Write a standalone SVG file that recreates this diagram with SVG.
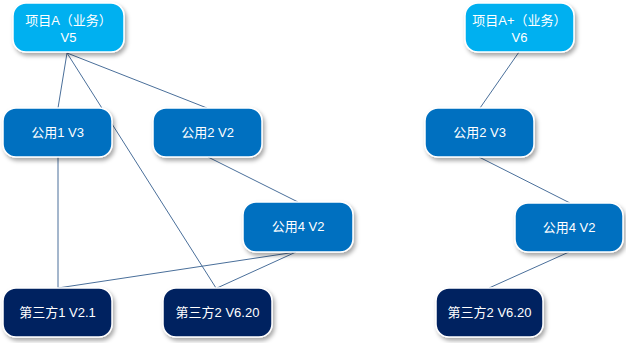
<svg xmlns="http://www.w3.org/2000/svg" width="626" height="343" viewBox="0 0 626 343">
<defs>
<filter id="sh" x="-20%" y="-20%" width="150%" height="160%">
<feDropShadow dx="2" dy="3" stdDeviation="2" flood-color="#000" flood-opacity="0.35"/>
</filter>
<style>
.n rect{stroke:#fff;stroke-width:1.5;filter:url(#sh)}
.biz rect{fill:#00B0F0}
.pub rect{fill:#0070C0}
.ext rect{fill:#002060}
.n text{fill:#fff;font-family:"Liberation Sans","Noto Sans CJK SC",sans-serif;font-size:13px;text-anchor:middle}
#edges line{stroke:#4A6F9A;stroke-width:1}
</style>
</defs>
<rect width="626" height="343" fill="#fff"/>
<g id="edges">
<line x1="67" y1="53" x2="58" y2="108"/>
<line x1="67" y1="53" x2="207" y2="108"/>
<line x1="67" y1="53" x2="216" y2="288"/>
<line x1="58" y1="157" x2="58" y2="288"/>
<line x1="208" y1="157" x2="298" y2="202"/>
<line x1="296" y1="252" x2="58" y2="288"/>
<line x1="296" y1="252" x2="217" y2="288"/>
<line x1="519" y1="52" x2="480" y2="108"/>
<line x1="479" y1="157" x2="570" y2="203"/>
<line x1="569" y1="252" x2="489" y2="288"/>
</g>
<g id="projA" class="n biz"><rect x="13" y="3" width="111" height="49" rx="13"/><text x="68.5" y="25">项目A（业务）</text><text x="68.5" y="42">V5</text></g>
<g id="pub1v3" class="n pub"><rect x="3" y="108" width="109" height="49" rx="13"/><text x="57.5" y="137">公用1 V3</text></g>
<g id="pub2v2" class="n pub"><rect x="153" y="108" width="109" height="49" rx="13"/><text x="207.5" y="137">公用2 V2</text></g>
<g id="pub4v2a" class="n pub"><rect x="243" y="202" width="110" height="50" rx="13"/><text x="298" y="231">公用4 V2</text></g>
<g id="ext1" class="n ext"><rect x="3" y="288" width="109" height="49" rx="13"/><text x="57.5" y="317">第三方1 V2.1</text></g>
<g id="ext2a" class="n ext"><rect x="163" y="288" width="109" height="49" rx="13"/><text x="217.5" y="317">第三方2 V6.20</text></g>
<g id="projAplus" class="n biz"><rect x="465" y="3" width="109" height="49" rx="13"/><text x="519.5" y="25">项目A+（业务）</text><text x="519.5" y="42">V6</text></g>
<g id="pub2v3" class="n pub"><rect x="425" y="108" width="109" height="49" rx="13"/><text x="479.5" y="137">公用2 V3</text></g>
<g id="pub4v2b" class="n pub"><rect x="515" y="203" width="108" height="49" rx="13"/><text x="569" y="232">公用4 V2</text></g>
<g id="ext2b" class="n ext"><rect x="436" y="288" width="107" height="49" rx="13"/><text x="489.5" y="317">第三方2 V6.20</text></g>
</svg>
